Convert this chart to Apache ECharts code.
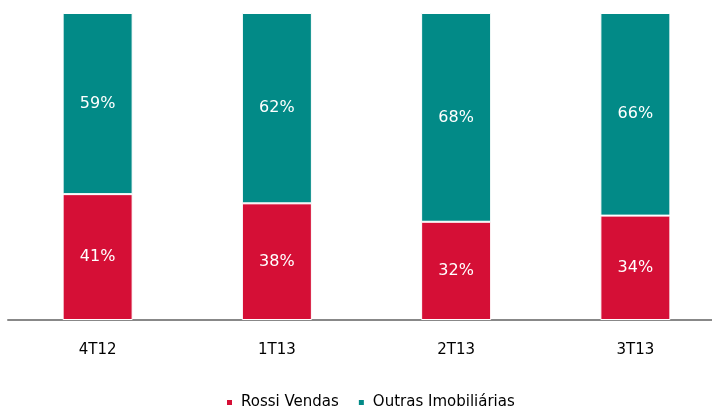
<!DOCTYPE html>
<html>
<head>
<meta charset="utf-8">
<script src="https://cdn.jsdelivr.net/npm/echarts@6/dist/echarts.min.js"></script>
<style>
  html, body { margin: 0; padding: 0; background: #fff; }
  #chart { width: 712px; height: 407px; }
</style>
</head>
<body>
<div id="chart"></div>
<script>
var categories = ['4T12', '1T13', '2T13', '3T13'];
var rossiVendas = [41, 38, 32, 34];
var outrasImobiliarias = [59, 62, 68, 66];

var fontName = "'DejaVu Sans', sans-serif";

var chart = echarts.init(document.getElementById('chart'));
chart.setOption({
    animation: false,
    textStyle: { fontFamily: fontName },
    grid: { left: 8, top: 13, width: 717, bottom: 87, outerBoundsMode: 'none' },
    xAxis: {
        type: 'category',
        data: categories,
        axisTick: { show: false },
        axisLine: { lineStyle: { color: '#888888', width: 2 } },
        axisLabel: { color: '#000', fontSize: 15, margin: 23, fontFamily: fontName }
    },
    yAxis: {
        type: 'value',
        min: 0,
        max: 100,
        show: false
    },
    legend: {
        bottom: -8,
        left: 220,
        itemWidth: 7,
        itemHeight: 7,
        itemGap: 18,
        icon: 'rect',
        textStyle: { color: '#000', fontSize: 15, fontFamily: fontName, padding: [0, 0, 0, 3] },
        data: ['Rossi Vendas', 'Outras Imobiliárias']
    },
    series: [{
        name: 'Rossi Vendas',
        type: 'bar',
        stack: 'total',
        barWidth: 70,
        data: rossiVendas,
        itemStyle: { color: '#D50F36', borderColor: '#fff', borderWidth: 1 },
        label: {
            show: true,
            position: 'inside',
            color: '#fff',
            fontSize: 16,
            fontFamily: fontName,
            formatter: '{c}%'
        }
    }, {
        name: 'Outras Imobiliárias',
        type: 'bar',
        stack: 'total',
        barWidth: 70,
        data: outrasImobiliarias,
        itemStyle: { color: '#028A87', borderColor: '#fff', borderWidth: 1 },
        label: {
            show: true,
            position: 'inside',
            color: '#fff',
            fontSize: 16,
            fontFamily: fontName,
            formatter: '{c}%'
        }
    }]
});
</script>
</body>
</html>
